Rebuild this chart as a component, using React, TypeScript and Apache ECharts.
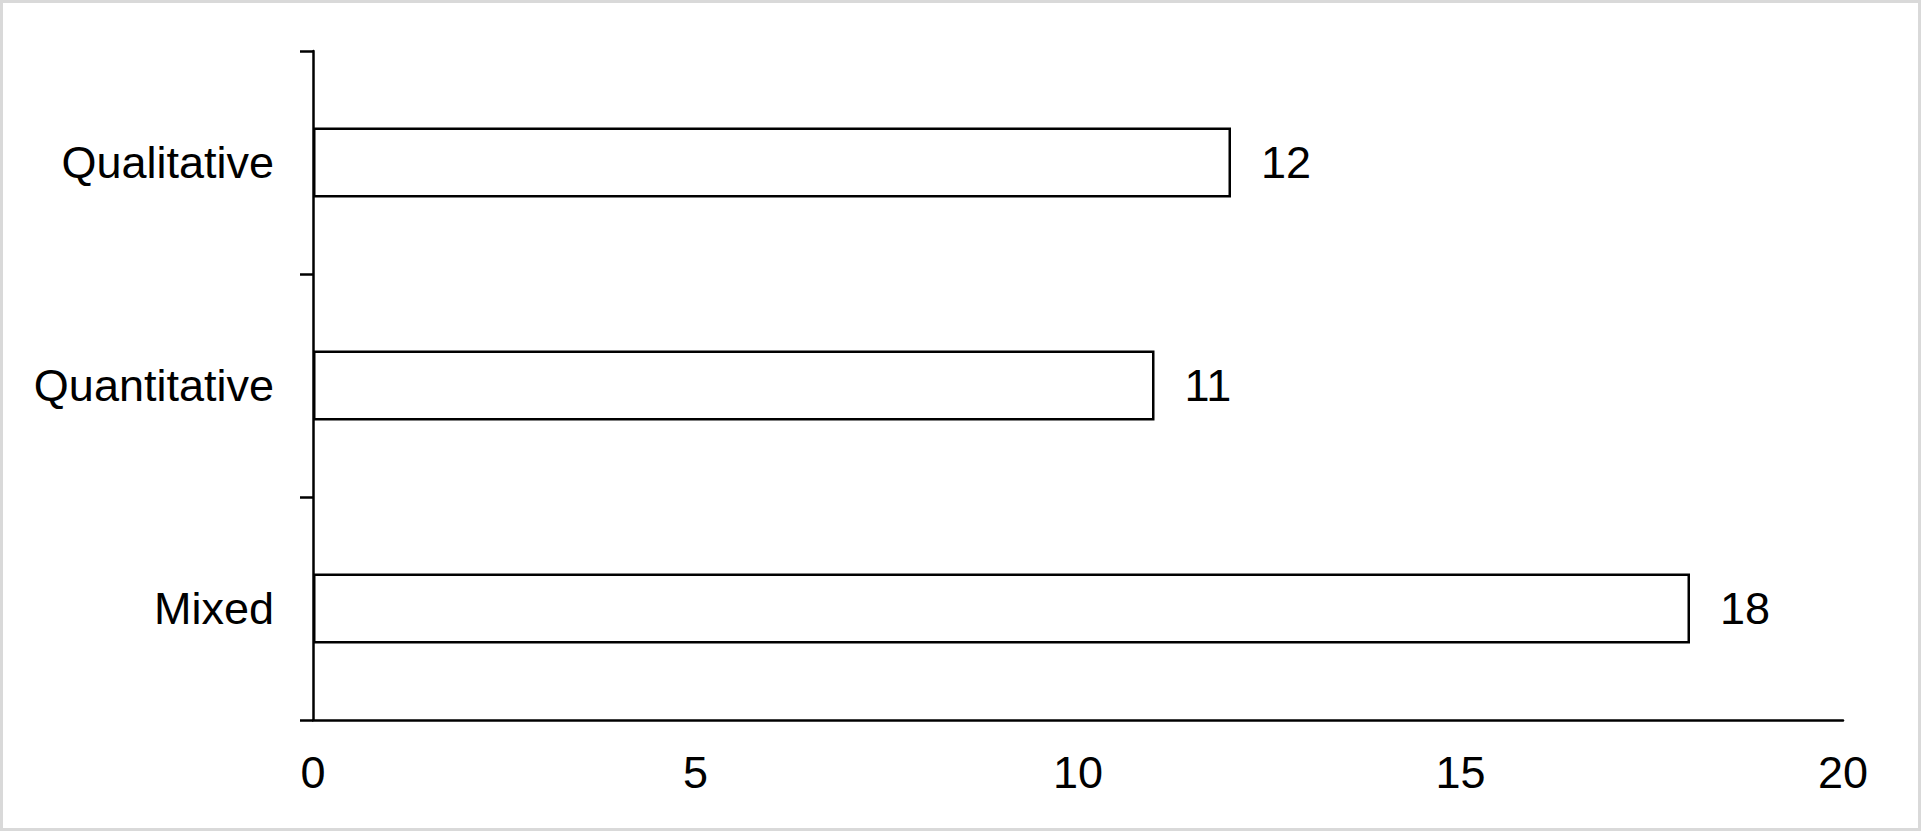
import React, { useEffect, useRef } from "react";
import * as echarts from "echarts";

const categories = ["Mixed", "Quantitative", "Qualitative"];
const values = [18, 11, 12];
const xTicks = { min: 0, max: 20, interval: 5 };

const FONT = "'Liberation Sans', Arial, Helvetica, sans-serif";

export default function App() {
  const ref = useRef<HTMLDivElement>(null);
  useEffect(() => {
    if (!ref.current) return;
    const chart = echarts.init(ref.current, undefined, { renderer: "svg" });
    chart.setOption({
      animation: false,
      backgroundColor: "#ffffff",
      grid: { left: 313, right: 78, top: 51, bottom: 111, containLabel: false },
      xAxis: {
        type: "value",
        min: xTicks.min,
        max: xTicks.max,
        interval: xTicks.interval,
        axisLine: { show: true, lineStyle: { color: "#000", width: 2.5 } },
        axisTick: { show: false },
        splitLine: { show: false },
        axisLabel: { color: "#000", fontSize: 45, fontFamily: FONT, margin: 30 },
      },
      yAxis: {
        type: "category",
        data: categories,
        axisLine: { show: true, lineStyle: { color: "#000", width: 2.5 } },
        axisTick: { show: true, length: 13, lineStyle: { color: "#000", width: 2.5 } },
        axisLabel: { color: "#000", fontSize: 45, fontFamily: FONT, margin: 39 },
        splitLine: { show: false },
      },
      series: [
        {
          type: "bar",
          data: values,
          barWidth: 70,
          itemStyle: { color: "#ffffff", borderColor: "#000", borderWidth: 2.5 },
          label: {
            show: true,
            position: "right",
            distance: 30,
            color: "#000",
            fontSize: 45,
            fontFamily: FONT,
          },
        },
      ],
    });
    return () => chart.dispose();
  }, []);
  return (
    <div style={{ position: "fixed", left: 0, top: 0, width: 1921, height: 831, background: "#fff" }}>
      <div ref={ref} style={{ position: "absolute", left: 0, top: 0, width: 1921, height: 831 }} />
      <div
        style={{
          position: "absolute",
          left: 0,
          top: 0,
          width: 1921,
          height: 831,
          boxSizing: "border-box",
          border: "3px solid #d9d9d9",
          pointerEvents: "none",
        }}
      />
    </div>
  );
}
